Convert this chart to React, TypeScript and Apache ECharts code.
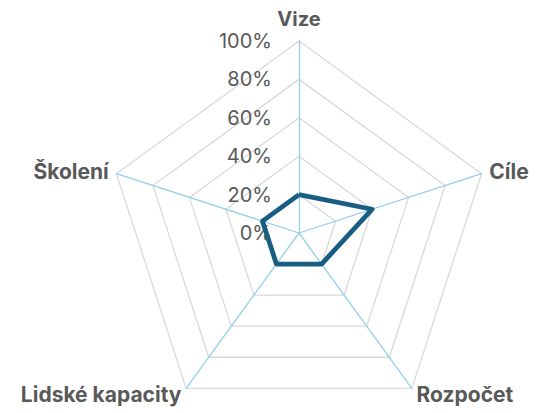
import React, { useEffect, useRef } from "react";
import * as echarts from "echarts";

// listed counter-clockwise from the top, as ECharts radar lays them out
const indicatorNames = ["Vize", "Školení", "Lidské kapacity", "Rozpočet", "Cíle"];
const values = [20, 20, 20, 20, 40];
const tickMax = 100;
const tickInterval = 20;

export default function App() {
  const ref = useRef<HTMLDivElement>(null);
  useEffect(() => {
    const chart = echarts.init(ref.current!, null, { renderer: "svg" });
    const center = [299, 233];
    const radius = 192;
    const font = "Inter, 'Noto Sans', sans-serif";
    chart.setOption({
      animation: false,
      backgroundColor: "#ffffff",
      textStyle: { fontFamily: font },
      radar: {
        center,
        radius,
        startAngle: 90,
        splitNumber: 5,
        shape: "polygon",
        indicator: indicatorNames.map((n) => ({ name: n, max: tickMax, min: 0 })),
        axisName: {
          color: "#595959",
          fontSize: 21,
          fontWeight: "bold",
          fontFamily: font,
          formatter: (name: string) => (name === "Vize" ? `{top|${name}}` : name),
          rich: {
            top: {
              color: "#595959",
              fontSize: 20,
              fontWeight: "bold",
              fontFamily: font,
              padding: [0, 0, 4, 0],
            },
          },
        },
        nameGap: 8,
        splitArea: { show: false },
        splitLine: { lineStyle: { color: "#d9d9d9", width: 1.3 } },
        axisLine: { lineStyle: { color: "#94cfea", width: 1.3 } },
        axisTick: { show: false },
        axisLabel: { show: false },
      },
      polar: { center, radius },
      angleAxis: {
        startAngle: 90,
        show: false,
        min: 0,
        max: 360,
      },
      radiusAxis: {
        min: 0,
        max: tickMax,
        interval: tickInterval,
        axisLine: { show: false },
        axisTick: { show: false },
        splitLine: { show: false },
        axisLabel: {
          show: true,
          formatter: "{value}%",
          color: "#595959",
          fontSize: 20,
          fontFamily: font,
          margin: 27,
        },
      },
      series: [
        {
          type: "radar",
          symbol: "none",
          lineStyle: { color: "#175e82", width: 4.8 },
          data: [{ value: values }],
        },
      ],
    });
    return () => chart.dispose();
  }, []);
  return (
    <div
      ref={ref}
      style={{ position: "fixed", left: 0, top: 0, width: 538, height: 413 }}
    />
  );
}
